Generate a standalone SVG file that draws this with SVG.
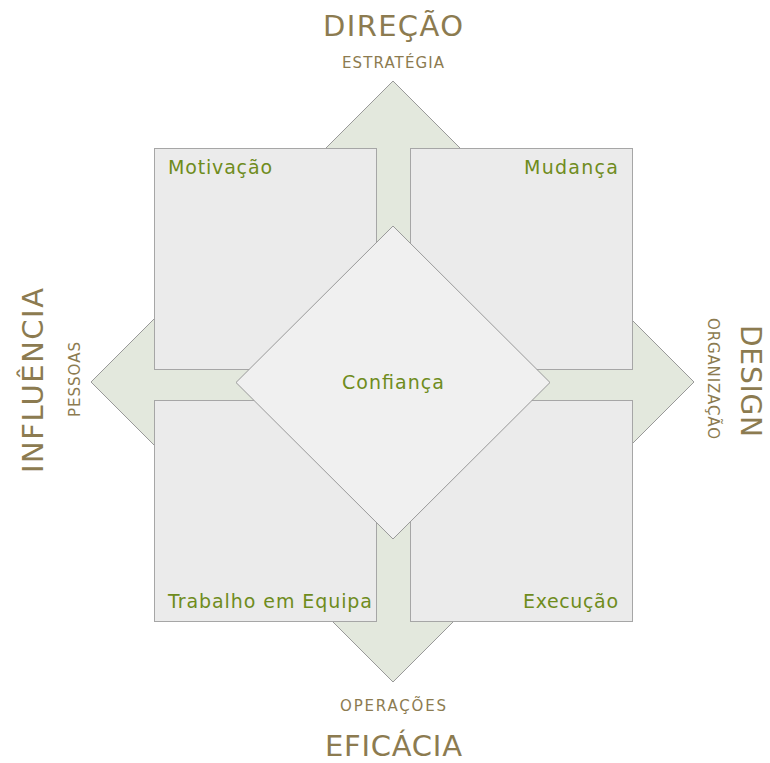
<svg xmlns="http://www.w3.org/2000/svg" width="770" height="763" viewBox="0 0 770 763">
<style>
.box{fill:#ebebeb;stroke:#a6a6a6;stroke-width:1}
.lbl{font-family:"DejaVu Sans","Liberation Sans",sans-serif;font-size:19px;fill:#6f8c1c}
.ttl{font-family:"DejaVu Sans","Liberation Sans",sans-serif;font-size:29px;fill:#8c7b50}
.sub{font-family:"DejaVu Sans","Liberation Sans",sans-serif;font-size:15px;fill:#8c7b50}
</style>
<rect width="770" height="763" fill="#ffffff"/>
<g id="connectors">
<polygon points="393,81 483,171 423,171 423,352 604,352 604,292 694,382 604,472 604,412 423,412 423,592 483,592 393,682 303,592 363,592 363,412 181,412 181,472 91,382 181,292 181,352 363,352 363,171 303,171" fill="#e3e8dd" stroke="#999999" stroke-width="1"/>
</g>
<g id="node-motivacao"><rect class="box" x="154.5" y="148.5" width="222" height="221"/><text class="lbl" x="168" y="174" textLength="104">Motivação</text></g>
<g id="node-mudanca"><rect class="box" x="410.5" y="148.5" width="222" height="221"/><text class="lbl" x="524" y="174" textLength="94">Mudança</text></g>
<g id="node-trabalho"><rect class="box" x="154.5" y="400.5" width="222" height="221"/><text class="lbl" x="168" y="608" textLength="204">Trabalho em Equipa</text></g>
<g id="node-execucao"><rect class="box" x="410.5" y="400.5" width="222" height="221"/><text class="lbl" x="523" y="608" textLength="95">Execução</text></g>
<g id="node-confianca"><polygon points="393,226 550,382.5 393,539 236,382.5" fill="#f0f0f0" stroke="#999999" stroke-width="1"/><text class="lbl" x="342" y="389" textLength="102">Confiança</text></g>
<g id="label-direcao"><text class="ttl" x="323" y="36" textLength="140">DIREÇÃO</text><text class="sub" x="342" y="68" textLength="102">ESTRATÉGIA</text></g>
<g id="label-eficacia"><text class="sub" x="340" y="711" textLength="106">OPERAÇÕES</text><text class="ttl" x="325" y="756" textLength="137">EFICÁCIA</text></g>
<g id="label-influencia"><text class="ttl" transform="translate(43,473) rotate(-90)" textLength="185">INFLUÊNCIA</text><text class="sub" transform="translate(80,417) rotate(-90)" textLength="75">PESSOAS</text></g>
<g id="label-design"><text class="ttl" style="font-size:28px" transform="translate(741,325) rotate(90)" textLength="112">DESIGN</text><text class="sub" transform="translate(708,318) rotate(90)" textLength="121">ORGANIZAÇÃO</text></g>
</svg>
